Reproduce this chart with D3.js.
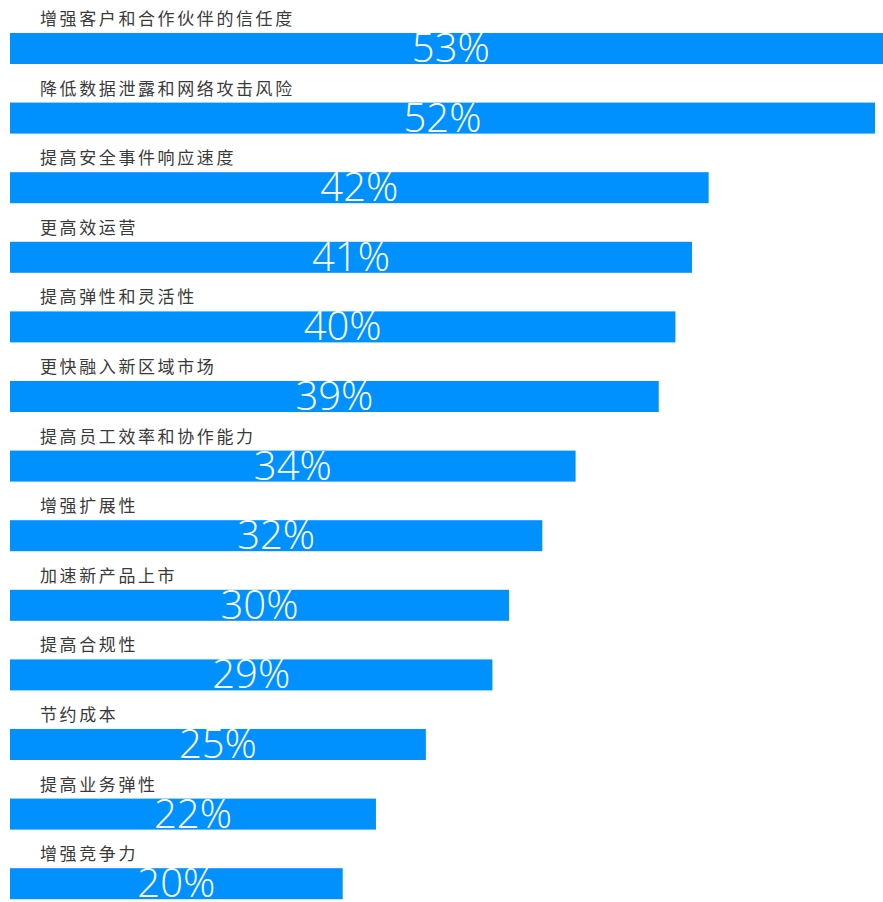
<!DOCTYPE html>
<html>
<head>
<meta charset="utf-8">
<script src="https://cdn.jsdelivr.net/npm/d3@7/dist/d3.min.js"></script>
<style>
  html, body { margin: 0; padding: 0; background: #ffffff; }
  svg { display: block; }
</style>
</head>
<body>
<script>
// Survey result: share of respondents naming each benefit
const categories = [
  "增强客户和合作伙伴的信任度",
  "降低数据泄露和网络攻击风险",
  "提高安全事件响应速度",
  "更高效运营",
  "提高弹性和灵活性",
  "更快融入新区域市场",
  "提高员工效率和协作能力",
  "增强扩展性",
  "加速新产品上市",
  "提高合规性",
  "节约成本",
  "提高业务弹性",
  "增强竞争力"
];
const values = [53, 52, 42, 41, 40, 39, 34, 32, 30, 29, 25, 22, 20];
const valueLabels = values.map(v => v + "%");

const W = 883, H = 902;
const barColor = "#0091ff";

const svg = d3.select("body").append("svg")
  .attr("width", W).attr("height", H);

// horizontal value scale (bars start at the left margin)
const x = d3.scaleLinear().domain([0, 52]).range([10, 875]);

// one row per category: label above, bar below
const step = 69.6;
const y = d3.scaleBand()
  .domain(categories)
  .range([33, 33 + step * categories.length])
  .paddingInner(0).paddingOuter(0);
const barH = 31;

const rows = svg.selectAll("g.row")
  .data(categories.map((c, i) => ({ c, v: values[i], t: valueLabels[i] })))
  .join("g")
  .attr("class", "row")
  .attr("transform", d => `translate(0,${y(d.c)})`);

rows.append("rect")
  .attr("x", x(0))
  .attr("y", 0)
  .attr("width", d => x(d.v) - x(0))
  .attr("height", barH)
  .attr("fill", barColor);

rows.append("text")
  .attr("x", 40)
  .attr("y", -8)
  .attr("fill", "#3a3a3a")
  .style("font-family", "'Noto Sans CJK SC', 'Noto Sans', sans-serif")
  .style("font-size", "17px")
  .style("letter-spacing", "2.6px")
  .text(d => d.c);

rows.append("text")
  .attr("x", d => (x(0) + x(d.v)) / 2)
  .attr("y", barH - 2)
  .attr("text-anchor", "middle")
  .attr("fill", "#ffffff")
  .style("font-family", "'Open Sans', 'Noto Sans', sans-serif")
  .style("font-size", "40px")
  .style("font-weight", "300")
  .text(d => d.t);
</script>
</body>
</html>
